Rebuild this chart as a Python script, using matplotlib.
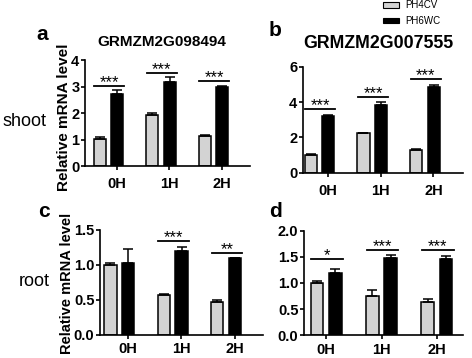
import numpy as np
import matplotlib
matplotlib.use('Agg')
import matplotlib.pyplot as plt
from matplotlib.patches import Patch

plt.rcParams['font.family'] = ['Liberation Sans', 'DejaVu Sans']

# time points
times = ['0H', '1H', '2H']

# a: shoot, GRMZM2G098494
a_pv = [1.02, 1.92, 1.13]
a_pv_err = [0.06, 0.08, 0.04]
a_wc = [2.72, 3.17, 2.97]
a_wc_err = [0.13, 0.18, 0.05]
a_sig_y = [3.02, 3.5, 3.2]
a_sig = ['***', '***', '***']

# b: shoot, GRMZM2G007555
b_pv = [1.0, 2.22, 1.3]
b_pv_err = [0.04, 0.04, 0.04]
b_wc = [3.22, 3.82, 4.84]
b_wc_err = [0.07, 0.18, 0.1]
b_sig_y = [3.6, 4.3, 5.3]
b_sig = ['***', '***', '***']

# c: root, GRMZM2G098494
c_pv = [1.0, 0.56, 0.46]
c_pv_err = [0.03, 0.02, 0.04]
c_wc = [1.03, 1.2, 1.09]
c_wc_err = [0.19, 0.05, 0.01]
c_sig_y = [None, 1.34, 1.16]
c_sig = ['', '***', '**']

# d: root, GRMZM2G007555
d_pv = [1.0, 0.76, 0.63]
d_pv_err = [0.04, 0.1, 0.06]
d_wc = [1.2, 1.47, 1.45]
d_wc_err = [0.06, 0.07, 0.06]
d_sig_y = [1.46, 1.64, 1.64]
d_sig = ['*', '***', '***']


def panel(ax, pv, pv_err, wc, wc_err, sig_y, sig, ymax, yticks, yfmt, xlim, tick_shift, xpad):
    x = np.arange(len(times))
    off = 0.165
    w = 0.23
    ax.bar(x - off, pv, w, color='#d3d3d3', edgecolor='black', linewidth=1.1, zorder=2)
    ax.bar(x + off, wc, w, color='black', edgecolor='black', linewidth=1.1, zorder=2)
    ax.errorbar(x - off, pv, yerr=[np.zeros(3), pv_err], fmt='none', ecolor='black',
                elinewidth=1.1, capsize=3.5, capthick=1.1, zorder=3)
    ax.errorbar(x + off, wc, yerr=[np.zeros(3), wc_err], fmt='none', ecolor='black',
                elinewidth=1.1, capsize=3.5, capthick=1.1, zorder=3)
    for i in range(len(times)):
        if sig_y[i] is None:
            continue
        ax.plot([i - 0.27, i + 0.3], [sig_y[i], sig_y[i]], color='black', lw=1.3, clip_on=False)
        ax.annotate(sig[i], (i + 0.015, sig_y[i]), xytext=(0, -0.8), textcoords='offset points',
                    ha='center', va='baseline', fontsize=12, annotation_clip=False)
    ax.set_xlim(*xlim)
    ax.set_ylim(0, ymax)
    ax.set_yticks(yticks)
    ax.set_yticklabels([yfmt.format(v) for v in yticks])
    ax.set_xticks(x + tick_shift)
    ax.set_xticklabels(times)
    for s in ['top', 'right']:
        ax.spines[s].set_visible(False)
    for s in ['left', 'bottom']:
        ax.spines[s].set_linewidth(1.2)
    ax.tick_params(axis='both', width=1.2, length=3, labelsize=10.5)
    ax.tick_params(axis='x', pad=xpad)
    ax.tick_params(axis='y', pad=1)
    for lab in ax.get_xticklabels() + ax.get_yticklabels():
        lab.set_fontweight('bold')


fig = plt.figure(figsize=(4.72, 3.58), dpi=100)

ax_a = fig.add_axes([0.180, 0.5363, 0.3496, 0.2961])
ax_b = fig.add_axes([0.642, 0.5176, 0.339, 0.2961])
ax_c = fig.add_axes([0.2119, 0.0651, 0.3453, 0.2933])
ax_d = fig.add_axes([0.644, 0.0634, 0.3369, 0.2922])

panel(ax_a, a_pv, a_pv_err, a_wc, a_wc_err, a_sig_y, a_sig, 4, [0, 1, 2, 3, 4], '{:.0f}',
      (-0.447, 2.69), 0.16, 5)
panel(ax_b, b_pv, b_pv_err, b_wc, b_wc_err, b_sig_y, b_sig, 6, [0, 2, 4, 6], '{:.0f}',
      (-0.31, 2.72), 0.16, 5)
panel(ax_c, c_pv, c_pv_err, c_wc, c_wc_err, c_sig_y, c_sig, 1.5, [0, 0.5, 1.0, 1.5], '{:.1f}',
      (-0.36, 2.69), 0.16, 2.5)
panel(ax_d, d_pv, d_pv_err, d_wc, d_wc_err, d_sig_y, d_sig, 2.0, [0, 0.5, 1.0, 1.5, 2.0], '{:.1f}',
      (-0.40, 2.47), 0.0, 2.5)

W, H = 472.0, 358.0


def ftext(px, py, s, **kw):
    fig.text(px / W, 1 - py / H, s, **kw)


# panel titles
ftext(161.5, 42.5, 'GRMZM2G098494', ha='center', va='center', fontsize=11, fontweight='bold')
ftext(378, 43, 'GRMZM2G007555', ha='center', va='center', fontsize=12.8, fontweight='bold')

# panel letters
ftext(42.5, 39.5, 'a', ha='center', va='baseline', fontsize=15, fontweight='bold')
ftext(275, 35.5, 'b', ha='center', va='baseline', fontsize=15, fontweight='bold')
ftext(43.5, 217.5, 'c', ha='center', va='baseline', fontsize=15, fontweight='bold')
ftext(276, 216.5, 'd', ha='center', va='baseline', fontsize=15, fontweight='bold')

# row labels
ftext(24.5, 121, 'shoot', ha='center', va='center', fontsize=13)
ftext(34, 282, 'root', ha='center', va='center', fontsize=13)

# y labels
ftext(64, 117.5, 'Relative mRNA level', ha='center', va='center', rotation=90,
      fontsize=11, fontweight='bold')
ftext(67, 283, 'Relative mRNA level', ha='center', va='center', rotation=90,
      fontsize=10.5, fontweight='bold')

# legend
handles = [Patch(facecolor='#d3d3d3', edgecolor='black', linewidth=0.8, label='PH4CV'),
           Patch(facecolor='black', edgecolor='black', linewidth=0.8, label='PH6WC')]
fig.legend(handles=handles, loc='upper left', bbox_to_anchor=(383 / W, 1 - 0.5 / H),
           frameon=False, fontsize=7, handlelength=1.65, handleheight=0.5,
           handletextpad=0.6, labelspacing=0.55, borderpad=0, borderaxespad=0)

fig.savefig('out.png', dpi=100)
